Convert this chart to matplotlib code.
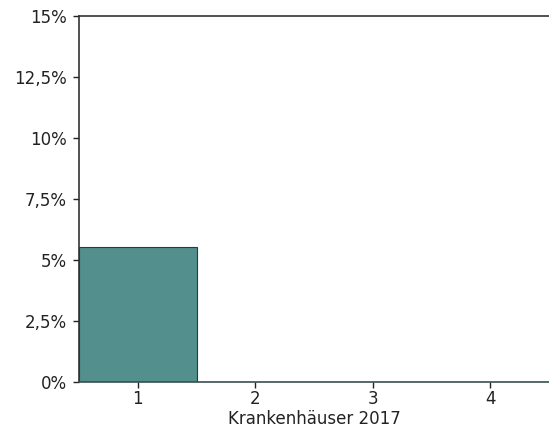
import numpy as np
import matplotlib.pyplot as plt
from matplotlib.ticker import FuncFormatter

# data
categories = [1, 2, 3, 4]
values = [5.55, 0, 0, 0]
y_ticks = [0, 2.5, 5, 7.5, 10, 12.5, 15]

fig = plt.figure(figsize=(5.49, 4.38), dpi=100)
ax = fig.add_axes([79 / 549, 1 - 382 / 438, 470 / 549, 366 / 438])

ax.bar(categories, values, width=1.0, color='#528f8d',
       edgecolor='#2b3b3b', linewidth=0.8)

ax.set_xlim(0.5, 4.5)
ax.set_ylim(0, 15)
ax.set_xticks(categories)
ax.set_yticks(y_ticks)
ax.yaxis.set_major_formatter(FuncFormatter(
    lambda v, p: ('%g' % v).replace('.', ',') + '%'))

ax.set_xlabel('Krankenhäuser 2017', fontsize=12, color='#222222', labelpad=1)
ax.tick_params(axis='both', labelsize=12, colors='#222222', length=4, width=1)
ax.tick_params(axis='x', pad=2)
ax.tick_params(axis='y', pad=5)

ax.spines['right'].set_visible(False)
for s in ['top', 'left', 'bottom']:
    ax.spines[s].set_color('#333333')
    ax.spines[s].set_linewidth(1.2)
ax.spines['bottom'].set_color('#3a4f4f')

fig.savefig('out.png', dpi=100)
